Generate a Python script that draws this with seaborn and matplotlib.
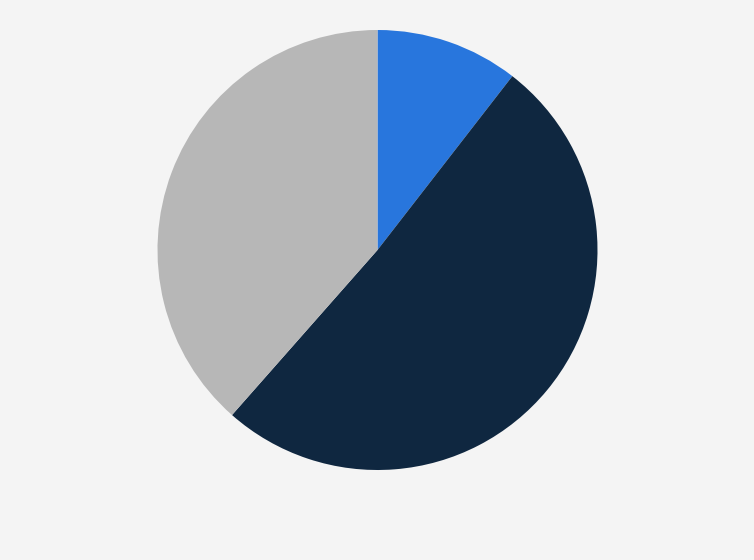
import matplotlib
matplotlib.use("Agg")
import matplotlib.pyplot as plt
import seaborn as sns

sns.set_theme(style="white")

categories = ["Segment A", "Segment B", "Segment C"]
values = [10.5, 51.0, 38.5]
colors = sns.color_palette(["#2876dd", "#0f2740", "#b7b7b7"])

fig = plt.figure(figsize=(7.54, 5.6), dpi=100)
fig.patch.set_facecolor("#f4f4f4")
ax = fig.add_axes([157.5 / 754, 90 / 560, 440 / 754, 440 / 560])
ax.set_facecolor("#f4f4f4")
ax.pie(values, colors=colors, startangle=90, counterclock=False,
       radius=1.0, wedgeprops=dict(linewidth=0))
ax.set_xlim(-1, 1)
ax.set_ylim(-1, 1)
ax.set_aspect("equal")
ax.axis("off")
fig.savefig("out.png", dpi=100, facecolor=fig.get_facecolor())
